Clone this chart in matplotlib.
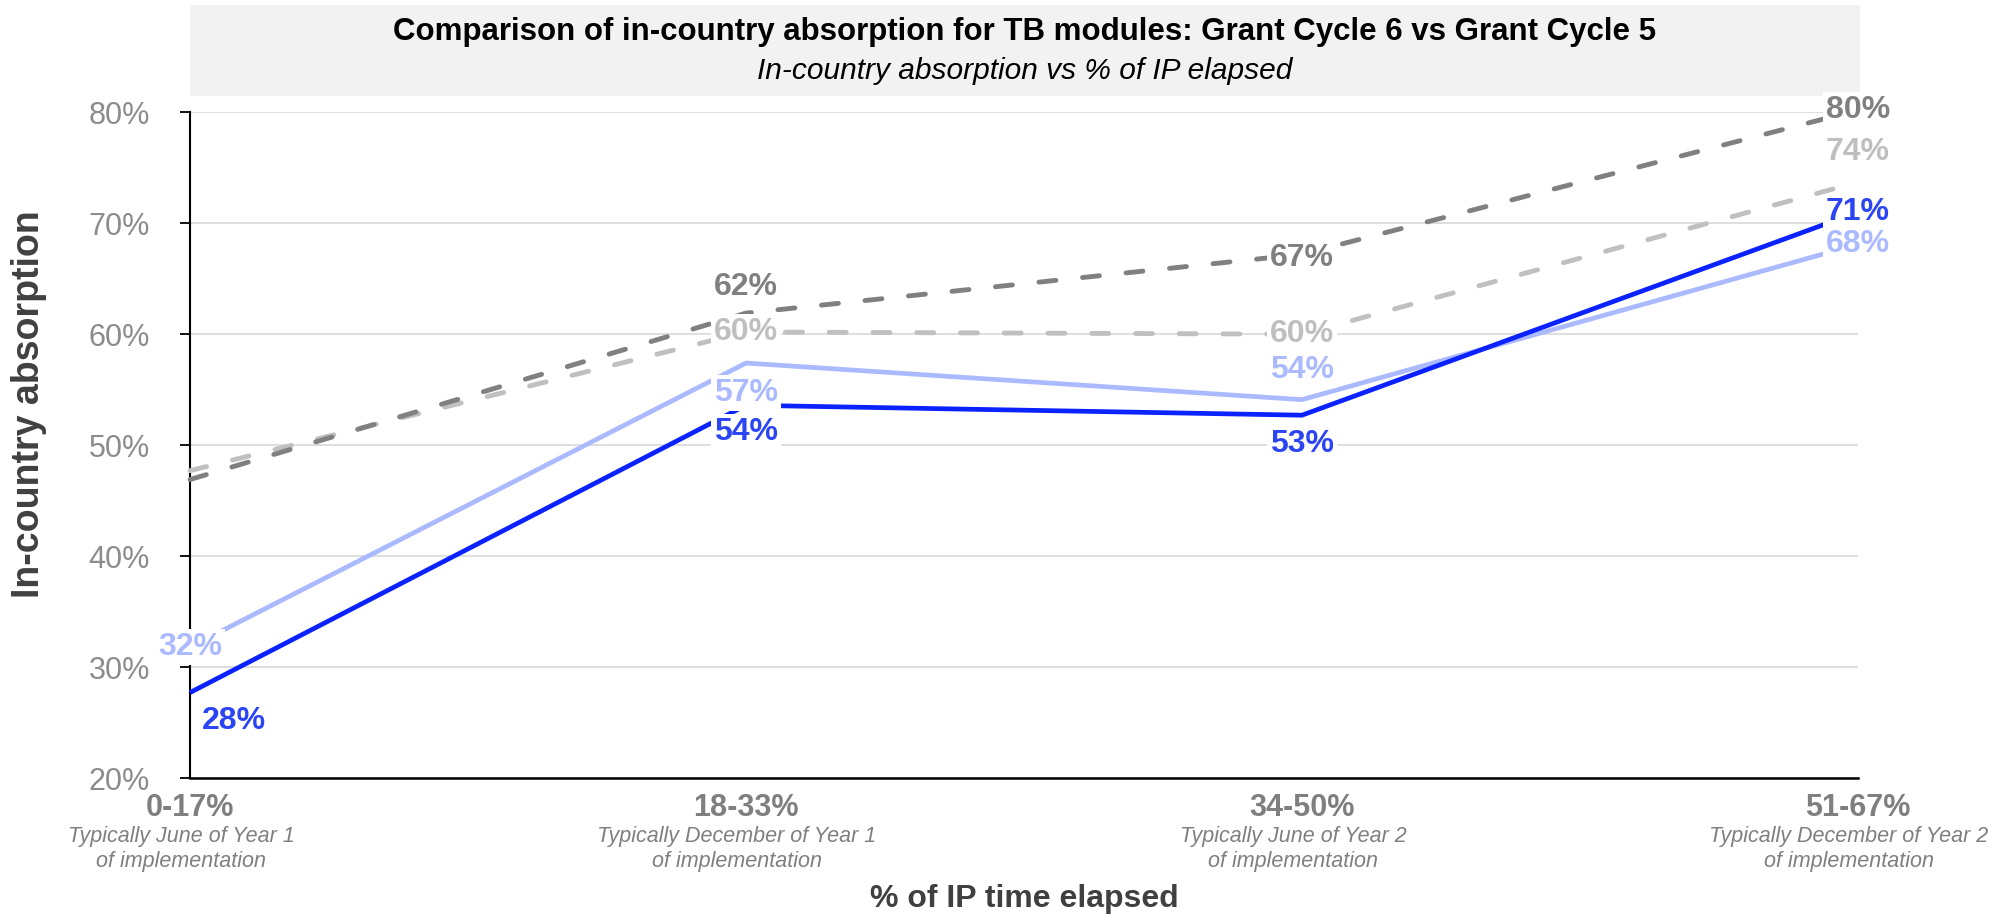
import matplotlib
matplotlib.use('Agg')
import matplotlib.pyplot as plt
from matplotlib.patches import Rectangle

plt.rcParams['font.family'] = ['Liberation Sans', 'DejaVu Sans']

# %% data
categories = ['0-17%', '18-33%', '34-50%', '51-67%']
sub_labels = ['Typically June of Year 1\nof implementation',
              'Typically December of Year 1\nof implementation',
              'Typically June of Year 2\nof implementation',
              'Typically December of Year 2\nof implementation']

# in-country absorption (%)
gc6_tb = [27.7, 53.6, 52.7, 71.0]        # solid blue
gc5_tb = [31.8, 57.4, 54.1, 68.1]        # solid light blue
ref_dark = [46.9, 61.9, 67.2, 80.2]      # dashed dark grey
ref_light = [47.7, 60.2, 60.0, 73.7]     # dashed light grey

title = 'Comparison of in-country absorption for TB modules: Grant Cycle 6 vs Grant Cycle 5'
subtitle = 'In-country absorption vs % of IP elapsed'

# %% styling per series: (values, colour, label colour, linestyle, label offsets in px)
series = [
    (ref_light, '#C0C0C0', '#BFBFBF', 'dash', [None, (0, 0), (0, 0), (0, 30)]),
    (ref_dark, '#808080', '#808080', 'dash', [None, (0, 26), (0, -4), (0, 0)]),
    (gc5_tb, '#ABB9FF', '#ABB9FF', 'solid', [(0, 0), (0, -30), (0, 30), (0, 0)]),
    (gc6_tb, '#0A22FF', '#2B45F5', 'solid', [(44, -28), (0, -27), (0, -29), (0, 0)]),
]

W, H = 2005, 917
fig = plt.figure(figsize=(W / 100, H / 100), dpi=100)
ax = fig.add_axes([190 / W, 1 - 778 / H, (1858 - 190) / W, (778 - 112.3) / H])

x = list(range(len(categories)))

for vals, col, lcol, ls, offs in series:
    if ls == 'dash':
        ax.plot(x, vals, color=col, lw=3.5, dashes=(3.5, 5.5), dash_capstyle='round',
                clip_on=False, zorder=3)
    else:
        ax.plot(x, vals, color=col, lw=3.4, solid_capstyle='butt', clip_on=False, zorder=3)
    for i, v in enumerate(vals):
        if offs[i] is None:
            continue
        ax.annotate(f'{round(v)}%', xy=(i, v), xytext=offs[i], textcoords='offset pixels',
                    ha='center', va='center', fontsize=23, fontweight='bold', color=lcol,
                    bbox=dict(facecolor='white', edgecolor='none', pad=2),
                    annotation_clip=False, zorder=5)

ax.set_xlim(0, 3)
ax.set_ylim(20, 80)
ax.set_yticks(range(20, 81, 10))
ax.set_yticklabels([f'{t}%' for t in range(20, 81, 10)], fontsize=22, color='#8C8C8C')
ax.tick_params(axis='y', direction='out', length=7, width=1.3, color='black', pad=22)
ax.set_xticks([])
ax.grid(axis='y', color='#D9D9D9', lw=1.2)
ax.set_axisbelow(True)
for s in ['top', 'right']:
    ax.spines[s].set_visible(False)
ax.spines['left'].set_linewidth(1.5)
ax.spines['bottom'].set_linewidth(1.8)
ax.spines['bottom'].set_zorder(6)

# category labels below the axis
for i, (cat, sub) in enumerate(zip(categories, sub_labels)):
    ax.annotate(cat, xy=(i, 0), xycoords=ax.get_xaxis_transform(), xytext=(0, -29.5),
                textcoords='offset pixels', ha='center', va='center', fontsize=22,
                fontweight='bold', color='#7F7F7F', annotation_clip=False)
    ax.annotate(sub, xy=(i, 0), xycoords=ax.get_xaxis_transform(), xytext=(-9, -71),
                textcoords='offset pixels', ha='center', va='center', fontsize=15.5,
                style='italic', color='#7F7F7F', linespacing=1.2, annotation_clip=False)

# title box
fig.add_artist(Rectangle((190 / W, 1 - 96 / H), 1670 / W, 91 / H, transform=fig.transFigure,
                         facecolor='#F2F2F2', edgecolor='none', zorder=0))
fig.text(1025 / W, 1 - 32 / H, title, ha='center', va='center', fontsize=22.5,
         fontweight='bold', color='black')
fig.text(1025 / W, 1 - 71 / H, subtitle, ha='center', va='center', fontsize=21.5,
         style='italic', color='black')

fig.text(1024 / W, 1 - 899 / H, '% of IP time elapsed', ha='center', va='center',
         fontsize=23, fontweight='bold', color='#404040')
fig.text(29 / W, 1 - 404 / H, 'In-country absorption', ha='center', va='center',
         rotation=90, fontsize=27, fontweight='bold', color='#404040')

fig.savefig('out.png', dpi=100)
